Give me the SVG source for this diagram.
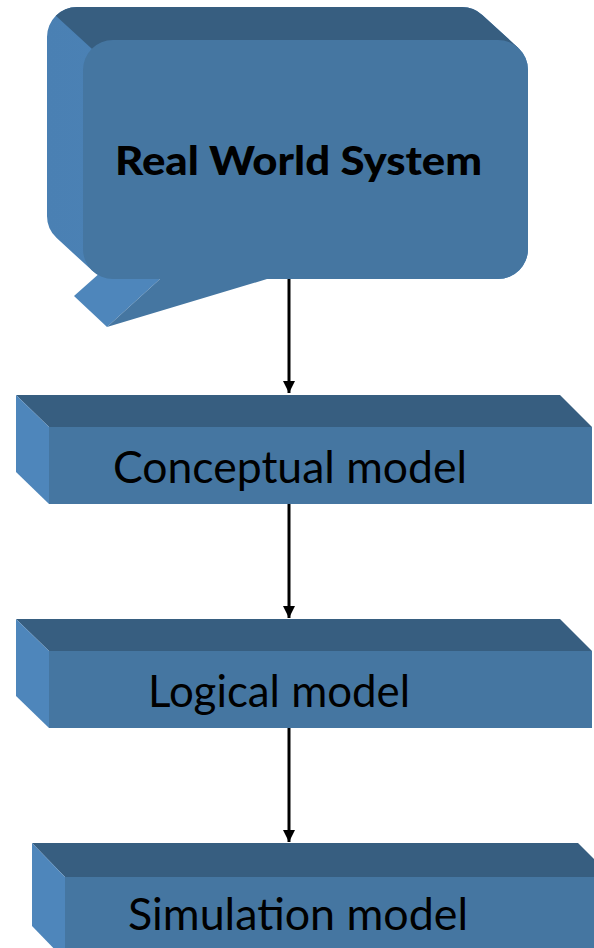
<svg xmlns="http://www.w3.org/2000/svg" width="594" height="948" viewBox="0 0 594 948">
  <style>
    .front { fill: #4576a1; }
    .top { fill: #375e80; }
    .side { fill: #4e86bb; }
    .lbl { font-family: Lato, "Open Sans", "Liberation Sans", sans-serif; fill: #000; }
    .conn { stroke: #000; stroke-width: 3; fill: none; }
  </style>
  <defs>
    <marker id="ah" viewBox="0 0 12 12" refX="12" refY="6" markerWidth="12" markerHeight="12" markerUnits="userSpaceOnUse" orient="auto">
      <path d="M0,0 L12,6 L0,12 Z" fill="#000"/>
    </marker>
    <linearGradient id="sideg" x1="0" y1="0" x2="1" y2="0">
      <stop offset="0" stop-color="#4a80b3"/>
      <stop offset="1" stop-color="#5089c0"/>
    </linearGradient>
  </defs>

  <rect width="594" height="948" fill="#fff"/>

  <g id="real-world-system">
    <path fill="url(#sideg)" d="M47,37 A30,30 0 0 1 77,7 L462,7 A30,30 0 0 1 482.3,14.9 L518.3,47.9 A30,30 0 0 1 528,70 L528,249 A30,30 0 0 1 498,279 L113,279 A30,30 0 0 1 92.7,271.1 L56.7,238.1 A30,30 0 0 1 47,216 Z"/>
    <path class="side" d="M128,248 L74,296 L107,327 L160,279 Z"/>
    <path class="top" d="M55.8,15.8 A30,30 0 0 1 77,7 L462,7 A30,30 0 0 1 482.3,14.9 L518.3,47.9 L498,60 L113,60 L91.8,48.8 Z"/>
    <path class="front" d="M113,40 L498,40 A30,30 0 0 1 528,70 L528,249 A30,30 0 0 1 498,279 L267,279 L107,327 L160,279 L113,279 A30,30 0 0 1 83,249 L83,70 A30,30 0 0 1 113,40 Z"/>
    <text class="lbl" x="115" y="175" font-size="40" font-weight="900" textLength="367" lengthAdjust="spacingAndGlyphs">Real World System</text>
  </g>

  <g id="conceptual-model">
    <polygon class="top" points="16,395 560,395 592,427 49,427"/>
    <polygon class="side" points="16,395 49,427 49,504 16,472"/>
    <rect class="front" x="49" y="427" width="543" height="77"/>
    <text class="lbl" x="113" y="483" font-size="45" textLength="354" lengthAdjust="spacingAndGlyphs">Conceptual model</text>
  </g>

  <g id="logical-model">
    <polygon class="top" points="16,619 560,619 592,651 49,651"/>
    <polygon class="side" points="16,619 49,651 49,728 16,696"/>
    <rect class="front" x="49" y="651" width="543" height="77"/>
    <text class="lbl" x="148" y="707" font-size="45" textLength="262" lengthAdjust="spacingAndGlyphs">Logical model</text>
  </g>

  <g id="simulation-model">
    <polygon class="top" points="32,843 578,843 612,877 65,877"/>
    <polygon class="side" points="32,843 65,877 65,960 32,926"/>
    <rect class="front" x="65" y="877" width="560" height="90"/>
    <text class="lbl" x="128" y="930" font-size="45" textLength="340" lengthAdjust="spacingAndGlyphs">Simulation model</text>
  </g>

  <g id="connectors">
    <line class="conn" x1="289" y1="279" x2="289" y2="393" marker-end="url(#ah)"/>
    <line class="conn" x1="289" y1="504" x2="289" y2="618" marker-end="url(#ah)"/>
    <line class="conn" x1="289" y1="728" x2="289" y2="842" marker-end="url(#ah)"/>
  </g>
</svg>
